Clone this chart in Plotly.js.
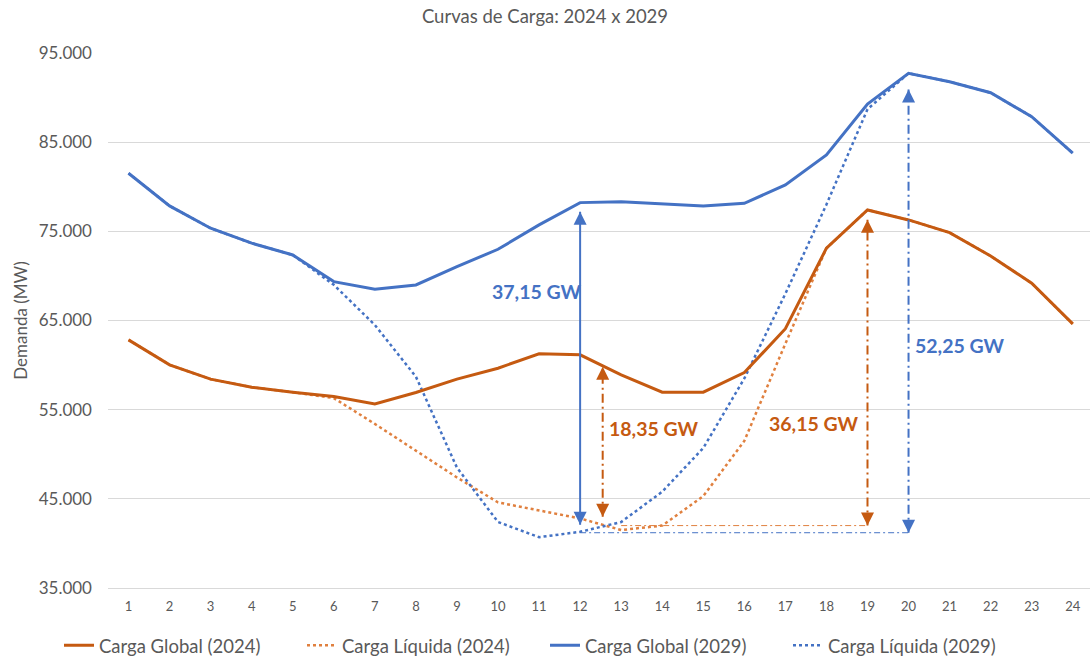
<!DOCTYPE html>
<html>
<head>
<meta charset="utf-8">
<script src="https://cdn.plot.ly/plotly-3.0.1.min.js"></script>
<style>html,body{margin:0;padding:0;background:#fff;}#chart{width:1090px;height:661px;}</style>
</head>
<body>
<div id="chart"></div>
<script>
// ---- data ----
const hours = [1,2,3,4,5,6,7,8,9,10,11,12,13,14,15,16,17,18,19,20,21,22,23,24];
const hourLabels = hours.map(String);
const global2024  = [62830,60030,58420,57520,56960,56470,55650,56920,58420,59650,61260,61150,58900,56960,56960,59160,64080,73110,77400,76280,74860,72240,69180,64620];
const liquida2024 = [62830,60030,58420,57520,56960,56300,53400,50400,47400,44600,43700,42800,41500,42000,45300,51500,62400,73110,77400,76280,74860,72240,69180,64620];
const global2029  = [81510,77850,75350,73670,72350,69360,68510,68990,71040,72990,75720,78220,78330,78070,77850,78150,80200,83570,89280,92720,91780,90550,87860,83760];
const liquida2029 = [81510,77850,75350,73670,72350,69000,64500,58700,48500,42400,40700,41300,42400,45800,50700,58500,68000,78000,88700,92720,91780,90550,87860,83760];
const seriesNames = ["Carga Global (2024)","Carga Líquida (2024)","Carga Global (2029)","Carga Líquida (2029)"];

// gap markers (hour position, top and bottom in MW) and labels
const gapLabels = ["37,15 GW","18,35 GW","36,15 GW","52,25 GW"];
const gapX      = [12, 12.55, 19, 20];
const gapTop    = [77200, 59800, 76300, 90900];
const gapBottom = [42100, 43000, 42000, 41200];
// horizontal minimum reference lines
const minRefX2024 = [13, 19];
const minRef2024  = 42000;
const minRefX2029 = [12, 20];
const minRef2029  = 41200;

const ORANGE = "#C55A11";
const BLUE = "#4472C4";
const GREY = "#595959";
const FONT = "Lato, 'Open Sans', sans-serif";

const traces = [
  {x:hours, y:liquida2024, name:seriesNames[1], mode:"lines", legendrank:2,
   line:{color:"#E0803F", width:2.5, dash:"dot"}},
  {x:hours, y:liquida2029, name:seriesNames[3], mode:"lines", legendrank:4,
   line:{color:BLUE, width:2.5, dash:"dot"}},
  {x:minRefX2024, y:[minRef2024,minRef2024], mode:"lines", showlegend:false, hoverinfo:"skip",
   line:{color:"#E0803F", width:1, dash:"6px,3px,2px,3px"}},
  {x:minRefX2029, y:[minRef2029,minRef2029], mode:"lines", showlegend:false, hoverinfo:"skip",
   line:{color:BLUE, width:1, dash:"6px,3px,2px,3px"}},
  {x:hours, y:global2024, name:seriesNames[0], mode:"lines", legendrank:1,
   line:{color:ORANGE, width:3}},
  {x:hours, y:global2029, name:seriesNames[2], mode:"lines", legendrank:3,
   line:{color:BLUE, width:3}}
];
const gapColors = [BLUE, ORANGE, ORANGE, BLUE];
const gapDash = ["solid", "9px,4px,2px,4px", "9px,4px,2px,4px", "9px,4px,2px,4px"];
for (let i = 0; i < gapX.length; i++) {
  traces.push({x:[gapX[i],gapX[i]], y:[gapBottom[i],gapTop[i]], mode:"lines",
    showlegend:false, hoverinfo:"skip", line:{color:gapColors[i], width:2, dash:gapDash[i]}});
}

const annotations = [];
for (let i = 0; i < gapX.length; i++) {
  annotations.push({x:gapX[i], y:gapTop[i], ax:gapX[i], ay:gapTop[i]-1500, axref:"x", ayref:"y",
    xref:"x", yref:"y", showarrow:true, arrowhead:2, arrowsize:1.3, arrowwidth:2, arrowcolor:gapColors[i], text:""});
  annotations.push({x:gapX[i], y:gapBottom[i], ax:gapX[i], ay:gapBottom[i]+1500, axref:"x", ayref:"y",
    xref:"x", yref:"y", showarrow:true, arrowhead:2, arrowsize:1.3, arrowwidth:2, arrowcolor:gapColors[i], text:""});
}
const labelPos = [[10.95, 68300, "center"], [13.8, 52900, "center"], [17.7, 53400, "center"], [20.1, 62150, "left"]];
for (let i = 0; i < gapLabels.length; i++) {
  annotations.push({x:labelPos[i][0], y:labelPos[i][1], xref:"x", yref:"y", text:"<b>"+gapLabels[i]+"</b>",
    showarrow:false, xanchor:labelPos[i][2], font:{family:FONT, size:19.5, color:gapColors[i]}});
}

const layout = {
  width:1090, height:661,
  margin:{l:108, r:0, t:53, b:73},
  paper_bgcolor:"#fff", plot_bgcolor:"#fff",
  separators:",.",
  font:{family:FONT, color:GREY},
  title:{text:"Curvas de Carga: 2024 x 2029", x:0.5, xref:"container", xanchor:"center",
    y:1-17/661, yref:"container", yanchor:"middle", font:{family:FONT, size:18.5, color:GREY}},
  xaxis:{range:[0.5, 24.42], tickvals:hours, ticktext:hourLabels, showgrid:false, zeroline:false,
    showline:true, linecolor:"#d9d9d9", linewidth:1, ticks:"", tickfont:{size:13, color:GREY},
    ticklabelstandoff:6, fixedrange:true},
  yaxis:{range:[35000, 95000], dtick:10000, tick0:35000, tickformat:",d", gridcolor:"#d9d9d9", gridwidth:1,
    zeroline:false, showline:false, ticks:"", tickfont:{size:17, color:GREY}, ticklabelstandoff:15,
    title:{text:"Demanda (MW)", font:{size:17, color:GREY}, standoff:6}},
  legend:{orientation:"h", xref:"container", x:0.5, xanchor:"center", yref:"container", y:0.023, yanchor:"middle",
    font:{family:FONT, size:18.5, color:GREY}, entrywidth:198, entrywidthmode:"pixels", traceorder:"normal"},
  annotations:annotations,
  showlegend:true
};
Plotly.newPlot("chart", traces, layout, {displayModeBar:false, staticPlot:true});
</script>
</body>
</html>
